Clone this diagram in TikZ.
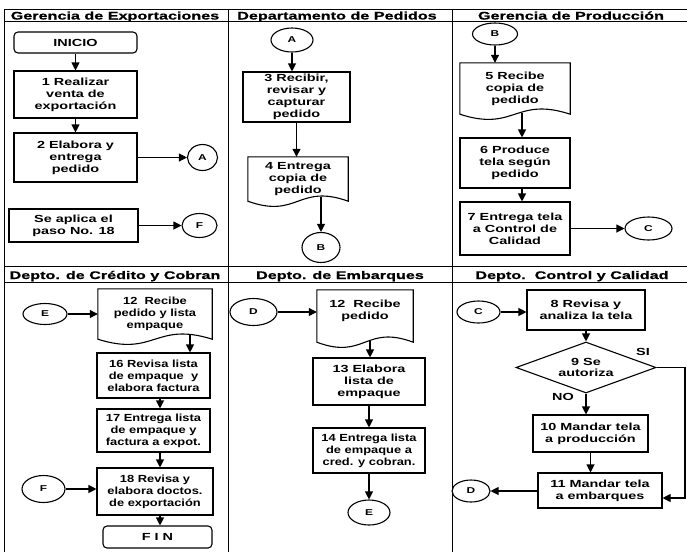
\documentclass[tikz,border=0pt]{standalone}
\usepackage{fontspec}
\usetikzlibrary{arrows.meta,shapes.geometric,calc}
\newfontfamily\bxfont{Liberation Sans Bold}[FakeStretch=1.4]
\newfontfamily\bxnarrow{Liberation Sans Bold}[FakeStretch=1.25]
\newfontfamily\hdfont{Liberation Sans Bold}[FakeStretch=1.47,FakeBold=0.8]
\newcommand\wavedoc[1]{\draw[boxline] (#1.south east) -- (#1.north east) -- (#1.north west) -- (#1.south west) .. controls ($(#1.south)+(0,18)$) and ($(#1.south)+(0,-18)$) .. (#1.south east) -- cycle;}
\begin{document}
\begin{tikzpicture}[x=1pt,y=-1pt,
  boxline/.style={line width=1.1pt, line join=miter},
  pline/.style={line width=1pt},
  box/.style={draw, boxline, align=center, inner sep=1pt, font=\bxfont\fontsize{10.3}{12}\selectfont},
  nbox/.style={box, font=\bxnarrow\fontsize{10.3}{12}\selectfont},
  rbox/.style={box, rounded corners=4pt},
  docn/.style={draw=none, align=center, inner sep=1pt, font=\bxfont\fontsize{10.3}{12}\selectfont},
  conn/.style={ellipse, draw, boxline, inner sep=0pt, font=\bxfont\fontsize{8.5}{10}\selectfont},
  dia/.style={diamond, draw, boxline, aspect=2.75, inner sep=0pt, align=center, font=\bxfont\fontsize{10.3}{11}\selectfont},
  hdr/.style={anchor=base, inner sep=0pt, font=\hdfont\fontsize{11}{12}\selectfont},
  lbl/.style={inner sep=0pt, font=\bxfont\fontsize{10.3}{12}\selectfont},
  arr/.style={line width=1.1pt, -{Triangle[length=8pt,width=8pt]}}]
\useasboundingbox (0,0) rectangle (687,552);
% frame lines
\draw[pline] (4,9) -- (687,9);
\draw[pline] (4,21) -- (687,21);
\draw[pline] (4,266) -- (687,266);
\draw[pline] (4,282) -- (687,282);
\draw[pline] (4,9) -- (4,552);
\draw[pline] (228,9) -- (228,552);
\draw[pline] (452,9) -- (452,552);
% headers
\node[hdr] (h1) at (115,19.5) {Gerencia de Exportaciones};
\node[hdr] (h2) at (337,19.5) {Departamento de Pedidos};
\node[hdr] (h3) at (571,19.5) {Gerencia de Producción};
\node[hdr] (h4) at (115,279) {Depto. de Crédito y Cobran};
\node[hdr] (h5) at (340,279) {Depto. de Embarques};
\node[hdr] (h6) at (572,279) {Depto.\ \ Control y Calidad};
% panel 1
\node[rbox, minimum width=123pt, minimum height=21pt] (inicio) at (75.5,42.5) {INICIO};
\node[box, minimum width=123pt, minimum height=47pt] (b1) at (75.5,94.5) {1 Realizar\\venta de\\exportación};
\node[box, minimum width=123pt, minimum height=49pt] (b2) at (75.5,157.5) {2 Elabora y\\entrega\\pedido};
\node[conn, minimum width=30pt, minimum height=26pt] (A1) at (202.5,157.5) {A};
\node[box, minimum width=129pt, minimum height=33pt] (s18) at (73.5,225.5) {Se aplica el\\paso No. 18};
\node[conn, minimum width=35pt, minimum height=24pt] (F1) at (199.5,225.5) {F};
\draw[arr] (inicio) -- (b1);
\draw[arr] (b1) -- (b2);
\draw[arr] (b2) -- (A1);
\draw[arr] (s18) -- (F1);
% panel 2
\node[conn, minimum width=42pt, minimum height=24pt] (A2) at (292,40) {A};
\node[box, minimum width=107pt, minimum height=50pt] (b3) at (296.5,97) {3 Recibir,\\revisar y\\capturar\\pedido};
\node[docn, minimum width=100pt, minimum height=44pt] (d4) at (298,179) {4 Entrega\\copia de\\pedido};
\wavedoc{d4}
\node[conn, minimum width=38pt, minimum height=30pt] (B2) at (321,247.5) {B};
\coordinate (d4o) at ($(B2.north |- d4.south)+(0,-4)$);
\draw[arr] (A2) -- (A2 |- b3.north);
\draw[arr] (b3) -- (b3 |- d4.north);
\draw[arr] (d4o) -- (B2);
% panel 3
\node[conn, minimum width=45pt, minimum height=22pt] (B3) at (495,34) {B};
\node[docn, minimum width=110pt, minimum height=51pt] (d5) at (515,88.5) {5 Recibe\\copia de\\pedido};
\wavedoc{d5}
\node[box, minimum width=110pt, minimum height=50pt] (b6) at (515,163) {6 Produce\\tela según\\pedido};
\node[box, minimum width=110pt, minimum height=53pt] (b7) at (515,228.5) {7 Entrega tela\\a Control de\\Calidad};
\node[conn, minimum width=47pt, minimum height=23pt] (C3) at (648.5,228.5) {C};
\coordinate (d5o) at ($(d5.south)+(7,-1)$);
\draw[arr] (B3) -- (B3 |- d5.north);
\draw[arr] (d5o) -- (d5o |- b6.north);
\draw[arr] (b6.south -| d5o) -- (b7.north -| d5o);
\draw[arr] (b7) -- (C3);
% panel 4
\node[conn, minimum width=44pt, minimum height=21pt] (E4) at (45,314) {E};
\node[docn, minimum width=114pt, minimum height=50pt, font=\bxnarrow\fontsize{10.3}{12}\selectfont] (d12) at (155,314) {12 \ Recibe\\pedido y lista\\empaque};
\wavedoc{d12}
\node[nbox, minimum width=113pt, minimum height=45pt] (b16) at (153.5,375.5) {16 Revisa lista\\de empaque \ y\\elabora factura};
\node[nbox, minimum width=113pt, minimum height=43pt] (b17) at (153.5,430.5) {17 Entrega lista\\de empaque y\\factura a expot.};
\node[nbox, minimum width=116pt, minimum height=47pt] (b18) at (155,491.5) {18 Revisa y\\elabora doctos.\\de exportación};
\node[conn, minimum width=43pt, minimum height=27pt] (F4) at (43.5,489) {F};
\node[rbox, minimum width=109pt, minimum height=22pt] (fin) at (157.5,537) {F I N};
\coordinate (d12o) at (190,335);
\coordinate (x160) at (160,0);
\draw[arr] (E4) -- (E4 -| d12.west);
\draw[arr] (d12o) -- (d12o |- b16.north);
\draw[arr] (b16.south -| x160) -- (b17.north -| x160);
\draw[arr] (b17.south -| x160) -- (b18.north -| x160);
\draw[arr] (F4) -- (F4 -| b18.west);
\draw[arr] (b18.south -| x160) -- (fin.north -| x160);
% panel 5
\node[conn, minimum width=47pt, minimum height=27pt] (D5) at (253.5,312) {D};
\node[docn, minimum width=96pt, minimum height=52pt] (d12b) at (365,316) {12 \ Recibe\\pedido\\\mbox{}};
\wavedoc{d12b}
\node[box, minimum width=112pt, minimum height=47pt] (b13) at (369,381.5) {13 Elabora\\lista de\\empaque};
\node[nbox, minimum width=112pt, minimum height=45pt] (b14) at (369,450.5) {14 Entrega lista\\de empaque a\\cred. y cobran.};
\node[conn, minimum width=42pt, minimum height=25pt] (E5) at (369,512.5) {E};
\coordinate (d12bo) at (370,341);
\draw[arr] (D5) -- (D5 -| d12b.west);
\draw[arr] (d12bo) -- (d12bo |- b13.north);
\draw[arr] (b13) -- (b14);
\draw[arr] (b14) -- (E5);
% panel 6
\node[conn, minimum width=43pt, minimum height=22pt] (C6) at (478.5,312) {C};
\node[box, minimum width=118pt, minimum height=40pt] (b8) at (586,310) {8 Revisa y\\analiza la tela};
\node[dia, minimum width=140pt, minimum height=51pt] (d9) at (586,367.5) {9 Se\\autoriza};
\node[box, minimum width=115pt, minimum height=37pt] (b10) at (590.5,433.5) {10 Mandar tela\\a producción};
\node[box, minimum width=124pt, minimum height=35pt] (b11) at (600,490.5) {11 Mandar tela\\a embarques};
\node[conn, minimum width=38pt, minimum height=22pt] (D6) at (471,491) {D};
\node[lbl] (si) at (643,352) {SI};
\node[lbl] (no) at (563,397) {NO};
\coordinate (siR) at (685,367.5);
\coordinate (siB) at (685,498);
\draw[arr] (C6) -- (C6 -| b8.west);
\draw[arr] (b8) -- (b8 |- d9.north);
\draw[arr] (d9.south) -- (d9.south |- b10.north);
\draw[arr] (b10) -- (b10 |- b11.north);
\draw[arr] (d9.east) -- (siR) -- (siB) -- (siB -| b11.east);
\draw[arr] (b11.west |- D6) -- (D6);
\end{tikzpicture}
\end{document}
